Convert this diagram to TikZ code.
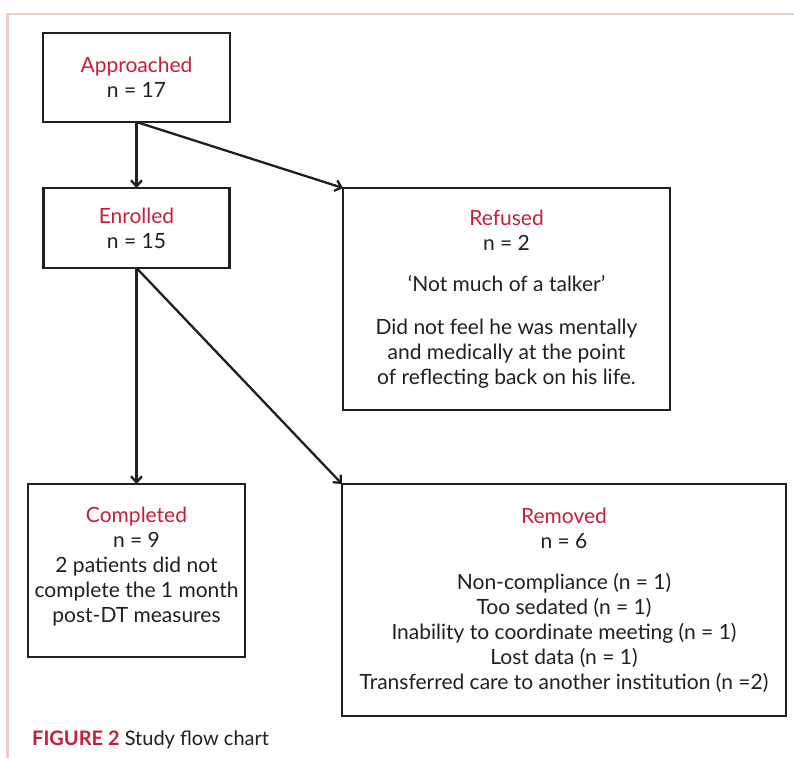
\documentclass[tikz,border=0pt]{standalone}
\usepackage{fontspec}
\setmainfont{Lato}
\usetikzlibrary{arrows.meta}
\definecolor{figred}{RGB}{200,30,58}
\definecolor{ink}{RGB}{35,31,32}
\definecolor{framepink}{RGB}{240,204,194}
\begin{document}
\begin{tikzpicture}[x=1pt,y=-1pt,
  box/.style={draw=ink, line width=2.5pt, rectangle, outer sep=0pt, inner sep=0pt,
    align=center, text=ink, font=\fontsize{21}{25}\selectfont},
  conn/.style={draw=ink, line width=2.3pt, -{Straight Barb[length=6pt,width=11pt]}},
  frame/.style={draw=framepink, line width=2.7pt},
  caption/.style={anchor=base west, inner sep=0pt, text=ink, font=\fontsize{20}{23}\selectfont}
]
\useasboundingbox (0,0) rectangle (794,758);
\fill[white] (0,0) rectangle (794,758);
\draw[frame] (7.7,758) -- (7.7,14) -- (794,14);

\node[box, minimum width=187pt, minimum height=89pt] (app) at (136.5,77.5)
  {\textcolor{figred}{Approached}\\n = 17};
\node[box, minimum width=186pt, minimum height=80pt] (enr) at (136.5,228)
  {\textcolor{figred}{Enrolled}\\n = 15};
\node[box, minimum width=327pt, minimum height=222pt] (ref) at (506.5,299)
  {\textcolor{figred}{Refused}\\n = 2\\[16pt]
   ‘Not much of a talker’\\[18pt]
   Did not feel he was mentally\\and medically at the point\\of reflecting back on his life.};
\node[box, minimum width=217pt, minimum height=173pt] (com) at (136.5,570.5)
  {\textcolor{figred}{Completed}\\n = 9\\2 patients did not\\complete the 1 month\\post-DT measures\rule[-12pt]{0pt}{1pt}};
\node[box, minimum width=444pt, minimum height=232pt] (rem) at (564,600)
  {\textcolor{figred}{Removed}\\n = 6\\[16pt]
   Non-compliance (n = 1)\\Too sedated (n = 1)\\Inability to coordinate meeting (n = 1)\\Lost data (n = 1)\\Transferred care to another institution (n =2)};

\draw[conn] (app.south) -- (enr.north);
\draw[conn] (app.south) -- (ref.north west);
\draw[conn] (enr.south) -- (com.north);
\draw[conn] (enr.south) -- (rem.north west);

\node[caption] (cap) at (32,745) {\textcolor{figred}{\textbf{FIGURE 2}} Study flow chart};
\end{tikzpicture}
\end{document}
